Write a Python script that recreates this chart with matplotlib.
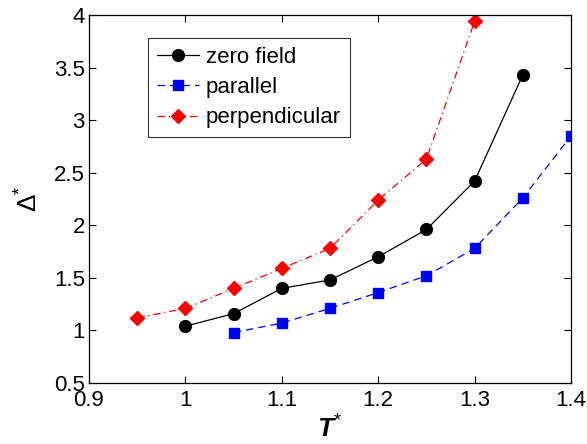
import matplotlib
matplotlib.use('Agg')
import matplotlib.pyplot as plt

plt.rcParams['font.family'] = ['Liberation Sans', 'DejaVu Sans']
plt.rcParams['mathtext.fontset'] = 'custom'
plt.rcParams['mathtext.rm'] = 'Liberation Sans'
plt.rcParams['mathtext.it'] = 'Liberation Sans:italic'
plt.rcParams['mathtext.bf'] = 'Liberation Sans:bold'
plt.rcParams['mathtext.bfit'] = 'Liberation Sans:bold:italic'

# temperatures and gap values
t_zero = [1.00, 1.05, 1.10, 1.15, 1.20, 1.25, 1.30, 1.35]
d_zero = [1.04, 1.16, 1.40, 1.48, 1.70, 1.96, 2.42, 3.43]

t_par = [1.05, 1.10, 1.15, 1.20, 1.25, 1.30, 1.35, 1.40]
d_par = [0.98, 1.07, 1.21, 1.36, 1.52, 1.78, 2.26, 2.85]

t_perp = [0.95, 1.00, 1.05, 1.10, 1.15, 1.20, 1.25, 1.30]
d_perp = [1.12, 1.21, 1.40, 1.59, 1.78, 2.24, 2.63, 3.94]

xticks = [0.9, 1.0, 1.1, 1.2, 1.3, 1.4]
xticklabels = ['0.9', '1', '1.1', '1.2', '1.3', '1.4']
yticks = [0.5, 1, 1.5, 2, 2.5, 3, 3.5, 4]
yticklabels = ['0.5', '1', '1.5', '2', '2.5', '3', '3.5', '4']

fig = plt.figure(figsize=(5.87, 4.44), dpi=100)
ax = fig.add_axes([89 / 587, 1 - 383 / 444, 482 / 587, 368 / 444])

ax.plot(t_zero, d_zero, '-', color='black', lw=0.9, marker='o', ms=8.5,
        label='zero field')
ax.plot(t_par, d_par, '--', color='blue', lw=0.9, marker='s', ms=7,
        dashes=(6, 4), label='parallel')
ax.plot(t_perp, d_perp, '-.', color='red', lw=0.9, marker='D', ms=7.5,
        dashes=(6, 3, 1, 3), label='perpendicular')

ax.set_xlim(0.9, 1.4)
ax.set_ylim(0.5, 4)
ax.set_xticks(xticks)
ax.set_xticklabels(xticklabels)
ax.set_yticks(yticks)
ax.set_yticklabels(yticklabels)
ax.tick_params(direction='in', length=5, width=0.8, top=True, right=True,
               labelsize=16)
ax.tick_params(axis='x', pad=5)
ax.tick_params(axis='y', pad=3)
for s in ax.spines.values():
    s.set_linewidth(0.9)

ax.set_xlabel(r'$\mathbfit{T}^{*}$', fontsize=19, labelpad=3)
ax.set_ylabel(r'$\Delta^{*}$', fontsize=19, labelpad=8)

leg = ax.legend(loc='upper left', bbox_to_anchor=(0.122, 0.938),
                fontsize=16, frameon=True, fancybox=False, edgecolor='black',
                borderpad=0.4, labelspacing=0.42, handlelength=1.9,
                handletextpad=0.3, borderaxespad=0)
leg.get_frame().set_linewidth(0.8)

fig.savefig('out.png', dpi=100)
